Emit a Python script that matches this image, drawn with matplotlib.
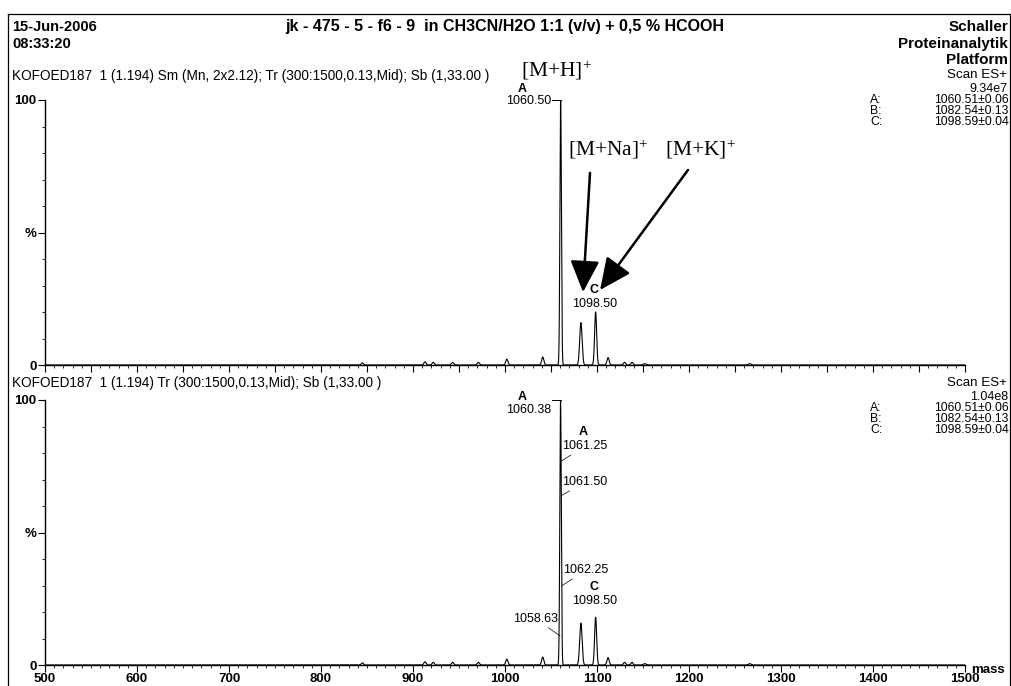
import numpy as np
import matplotlib
matplotlib.use("Agg")
import matplotlib.pyplot as plt
from matplotlib.ticker import MultipleLocator, FixedLocator, FixedFormatter

plt.rcParams['font.family'] = ['Liberation Sans', 'DejaVu Sans']
plt.rcParams['mathtext.default'] = 'regular'

# peaks: centre (m/z), height (%), width (sigma)
top_centres = [845, 913, 922, 943, 971, 1002, 1041, 1060.5, 1082.5, 1098.5, 1112, 1130, 1138, 1152, 1266]
top_heights = [0.8, 1.2, 1.0, 1.0, 1.0, 2.2, 3.0, 100, 16, 20, 2.8, 1.0, 1.0, 0.5, 0.5]
bot_centres = [845, 913, 922, 943, 971, 1002, 1041, 1060.4, 1082.5, 1098.5, 1112, 1130, 1138, 1152, 1266]
bot_heights = [0.8, 1.2, 1.0, 1.0, 1.0, 2.2, 3.0, 100, 15.8, 18, 2.8, 1.0, 1.0, 0.5, 0.5]
peak_widths = [1.2, 1.2, 1.2, 1.2, 1.2, 1.2, 1.2, 0.8, 1.3, 1.1, 1.2, 1.2, 1.2, 1.5, 1.5]

xticks = [500, 600, 700, 800, 900, 1000, 1100, 1200, 1300, 1400, 1500]
mark_labels = ["A:", "B:", "C:"]
mark_values = ["1060.51\u00b10.06", "1082.54\u00b10.13", "1098.59\u00b10.04"]


def spectrum(mz, centres, heights):
    y = np.zeros_like(mz)
    for c, h, w in zip(centres, heights, peak_widths):
        y += h * np.exp(-0.5 * ((mz - c) / w) ** 2)
    return y


W, H = 1012, 686
fig = plt.figure(figsize=(W / 100, H / 100), dpi=100)


def fx(px):
    return px / W


def fy(py):
    return 1 - py / H


mz = np.linspace(500, 1500, 20001)


def setup_axis(ax):
    ax.set_xlim(500, 1500)
    ax.set_ylim(0, 100)
    for s in ['top', 'right']:
        ax.spines[s].set_visible(False)
    ax.spines['left'].set_linewidth(1.0)
    ax.spines['bottom'].set_linewidth(1.0)
    ax.xaxis.set_major_locator(MultipleLocator(50))
    ax.xaxis.set_minor_locator(MultipleLocator(10))
    ax.yaxis.set_major_locator(FixedLocator([0, 50, 100]))
    ax.yaxis.set_major_formatter(FixedFormatter(["0", "%", "100"]))
    ax.yaxis.set_minor_locator(MultipleLocator(10))
    ax.tick_params(axis='both', which='major', direction='out', length=5, width=0.8,
                   labelsize=9.5, pad=1)
    ax.tick_params(axis='both', which='minor', direction='out', length=2.5, width=0.6)
    for lab in ax.get_yticklabels():
        lab.set_fontweight('bold')


# top panel
ax1 = fig.add_axes([fx(45), fy(365), fx(965) - fx(45), fy(100) - fy(365)])
ax1.plot(mz, spectrum(mz, top_centres, top_heights), color='black', lw=0.8)
setup_axis(ax1)
ax1.set_xticklabels([])

# bottom panel
ax2 = fig.add_axes([fx(45), fy(665), fx(965) - fx(45), fy(400) - fy(665)])
ax2.plot(mz, spectrum(mz, bot_centres, bot_heights), color='black', lw=0.8)
setup_axis(ax2)
ax2.set_xticks(xticks, minor=False)
ax2.set_xticks(np.arange(500, 1501, 10), minor=True)
ax2.set_xticklabels([str(v) for v in xticks], fontweight='bold', fontsize=9.5)
ax2.text(1507, -2, "mass", fontsize=9.5, fontweight='bold', ha='left', va='center', clip_on=False)

# peak labels, top
lab = dict(fontsize=9, clip_on=False)
ax1.text(1018.5, 104, "A", ha='center', va='center', fontweight='bold', **lab)
ax1.text(1050, 99.5, "1060.50", ha='right', va='center', **lab)
ax1.plot([1051, 1060.5], [100, 100], color='black', lw=0.7, clip_on=False)
ax1.text(1097, 28.3, "C", ha='center', va='center', fontweight='bold', **lab)
ax1.text(1097, 23, "1098.50", ha='center', va='center', **lab)

# peak labels, bottom
ax2.text(1018.5, 101, "A", ha='center', va='center', fontweight='bold', **lab)
ax2.text(1050, 96.2, "1060.38", ha='right', va='center', **lab)
ax2.plot([1051, 1060.4], [100, 100], color='black', lw=0.7, clip_on=False)
ax2.text(1085, 87.9, "A", ha='center', va='center', fontweight='bold', **lab)
lead = dict(arrowstyle='-', lw=0.5, color='black', shrinkA=0, shrinkB=0)
ax2.annotate("1061.25", xy=(1061.3, 77), xytext=(1062.5, 82.6), ha='left', va='center',
             arrowprops=lead, **lab)
ax2.annotate("1061.50", xy=(1061.5, 64), xytext=(1062.5, 69), ha='left', va='center',
             arrowprops=lead, **lab)
ax2.annotate("1062.25", xy=(1062.2, 30), xytext=(1063.5, 35.8), ha='left', va='center',
             arrowprops=lead, **lab)
ax2.annotate("1058.63", xy=(1059.8, 11), xytext=(1057.6, 17.4), ha='right', va='center',
             arrowprops=lead, **lab)
ax2.text(1097, 29.4, "C", ha='center', va='center', fontweight='bold', **lab)
ax2.text(1097, 24.2, "1098.50", ha='center', va='center', **lab)

# adduct annotations
serif = dict(fontsize=15.5, family=['Liberation Serif', 'DejaVu Serif'], clip_on=False)
ax1.text(1056, 111, "[M+H]$^{+}$", ha='center', va='center', **serif)
ax1.text(1112, 81.5, "[M+Na]$^{+}$", ha='center', va='center', **serif)
ax1.text(1212, 81.5, "[M+K]$^{+}$", ha='center', va='center', **serif)
arrow = dict(arrowstyle='-|>,head_length=1.3,head_width=0.6', lw=1.8, color='black',
             shrinkA=0, shrinkB=0, mutation_scale=15)
ax1.annotate("", xy=(1084.8, 27.5), xytext=(1092.4, 72.5), arrowprops=arrow)
ax1.annotate("", xy=(1103.3, 28.3), xytext=(1198.9, 73.6), arrowprops=arrow)

# header
hb = dict(fontsize=10.5, fontweight='bold', va='center')
fig.text(fx(12), fy(27), "15-Jun-2006", ha='left', **hb)
fig.text(fx(12), fy(44), "08:33:20", ha='left', **hb)
fig.text(fx(505), fy(27), "jk - 475 - 5 - f6 - 9  in CH3CN/H2O 1:1 (v/v) + 0,5 % HCOOH", ha='center',
         fontsize=11.5, fontweight='bold', va='center')
hr = dict(fontsize=11, fontweight='bold', va='center', ha='right')
fig.text(fx(1008), fy(27), "Schaller", **hr)
fig.text(fx(1008), fy(44), "Proteinanalytik", **hr)
fig.text(fx(1008), fy(60), "Platform", **hr)

fig.text(fx(12), fy(76), "KOFOED187  1 (1.194) Sm (Mn, 2x2.12); Tr (300:1500,0.13,Mid); Sb (1,33.00 )",
         ha='left', va='center', fontsize=9.8)
fig.text(fx(12), fy(383), "KOFOED187  1 (1.194) Tr (300:1500,0.13,Mid); Sb (1,33.00 )",
         ha='left', va='center', fontsize=9.8)


def scan_block(y0, total):
    fig.text(fx(1007), fy(y0), "Scan ES+", ha='right', va='center', fontsize=9.6)
    fig.text(fx(1008), fy(y0 + 14), total, ha='right', va='center', fontsize=9)
    for i, (k, v) in enumerate(zip(mark_labels, mark_values)):
        yy = y0 + 25 + 11 * i
        fig.text(fx(870), fy(yy), k, ha='left', va='center', fontsize=8.8)
        fig.text(fx(1009), fy(yy), v, ha='right', va='center', fontsize=8.8)


scan_block(75, "9.34e7")
scan_block(383, "1.04e8")

# page frame
fig.add_artist(plt.Line2D([fx(8), fx(8)], [fy(14), 0], color='black', lw=0.9))
fig.add_artist(plt.Line2D([fx(8), fx(1010)], [fy(14), fy(14)], color='black', lw=0.9))
fig.add_artist(plt.Line2D([fx(1010), fx(1010)], [fy(14), 0], color='black', lw=0.9))

fig.savefig("out.png", dpi=100)
